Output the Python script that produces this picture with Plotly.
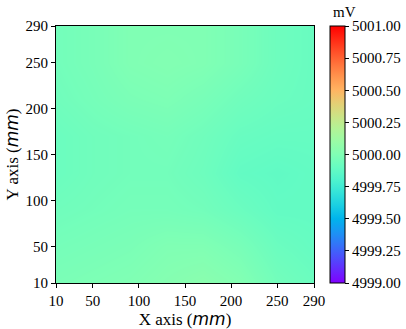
import math
import plotly.graph_objects as go

# grid sample positions (mm)
x_mm = [10, 50, 90, 130, 170, 210, 250, 290]
y_mm = [10, 50, 90, 130, 170, 210, 250, 290]

# measured voltage (mV), rows follow y_mm from bottom to top
row_y10 = [4999.98, 4999.99, 5000.00, 5000.02, 5000.04, 5000.01, 4999.95, 4999.92]
row_y50 = [4999.96, 4999.97, 4999.98, 5000.00, 5000.00, 4999.97, 4999.92, 4999.90]
row_y90 = [4999.94, 4999.95, 4999.96, 4999.96, 4999.95, 4999.92, 4999.89, 4999.89]
row_y130 = [4999.92, 4999.94, 4999.95, 4999.95, 4999.93, 4999.89, 4999.88, 4999.89]
row_y170 = [4999.92, 4999.94, 4999.95, 4999.96, 4999.94, 4999.91, 4999.90, 4999.90]
row_y210 = [4999.94, 4999.96, 4999.98, 4999.99, 4999.97, 4999.94, 4999.92, 4999.91]
row_y250 = [4999.95, 4999.97, 5000.00, 5000.01, 5000.00, 4999.97, 4999.93, 4999.91]
row_y290 = [4999.95, 4999.97, 5000.00, 5000.00, 5000.00, 4999.97, 4999.93, 4999.91]

z_mv = [row_y10, row_y50, row_y90, row_y130, row_y170, row_y210, row_y250, row_y290]

axis_ticks = [10, 50, 100, 150, 200, 250, 290]
cbar_ticks = [4999.00, 4999.25, 4999.50, 4999.75, 5000.00, 5000.25, 5000.50, 5000.75, 5001.00]


def rainbow_scale(n=21):
    # matplotlib "rainbow" (gnuplot 33,13,10)
    scale = []
    for i in range(n):
        t = i / (n - 1)
        r = min(1.0, abs(2 * t - 0.5))
        g = math.sin(math.pi * t)
        b = math.cos(math.pi * t / 2)
        scale.append([t, f"rgb({round(r*255)},{round(g*255)},{round(max(b,0)*255)})"])
    return scale


font_family = "Liberation Serif, DejaVu Serif, serif"
mm = '(<i><span style="font-family:DejaVu Sans">mm</span></i>)'

fig = go.Figure(go.Heatmap(
    x=x_mm,
    y=y_mm,
    z=z_mv,
    zmin=4999.0,
    zmax=5001.0,
    zsmooth="best",
    colorscale=rainbow_scale(),
    colorbar=dict(
        x=1.062,
        xanchor="left",
        xpad=0,
        y=0.5,
        yanchor="middle",
        ypad=0,
        len=1.0,
        lenmode="fraction",
        thickness=15,
        outlinecolor="black",
        outlinewidth=1,
        ticks="outside",
        ticklen=4,
        tickcolor="black",
        tickvals=cbar_ticks,
        ticktext=[f"{v:.2f}" for v in cbar_ticks],
        tickfont=dict(size=15),
    ),
))

axis_style = dict(
    showgrid=False,
    zeroline=False,
    showline=True,
    linecolor="black",
    linewidth=1,
    mirror=True,
    ticks="outside",
    ticklen=4,
    tickcolor="black",
    tickvals=axis_ticks,
    tickfont=dict(size=15),
    range=[10, 290],
)

fig.update_xaxes(title=dict(text="X axis " + mm, font=dict(size=17), standoff=0), **axis_style)
fig.update_yaxes(title=dict(text="Y axis " + mm, font=dict(size=17), standoff=2), **axis_style)

fig.add_annotation(
    text="mV", xref="paper", yref="paper", x=1.12, y=1.0, yshift=4,
    xanchor="center", yanchor="bottom", showarrow=False, font=dict(size=15),
)

fig.update_layout(
    width=406,
    height=329,
    margin=dict(l=56, r=92, t=26, b=46, autoexpand=False),
    paper_bgcolor="white",
    plot_bgcolor="white",
    font=dict(family=font_family, color="black"),
)

fig.write_html(
    "out.html",
    config={"displayModeBar": False},
    post_script="document.body.style.margin='0';",
)
